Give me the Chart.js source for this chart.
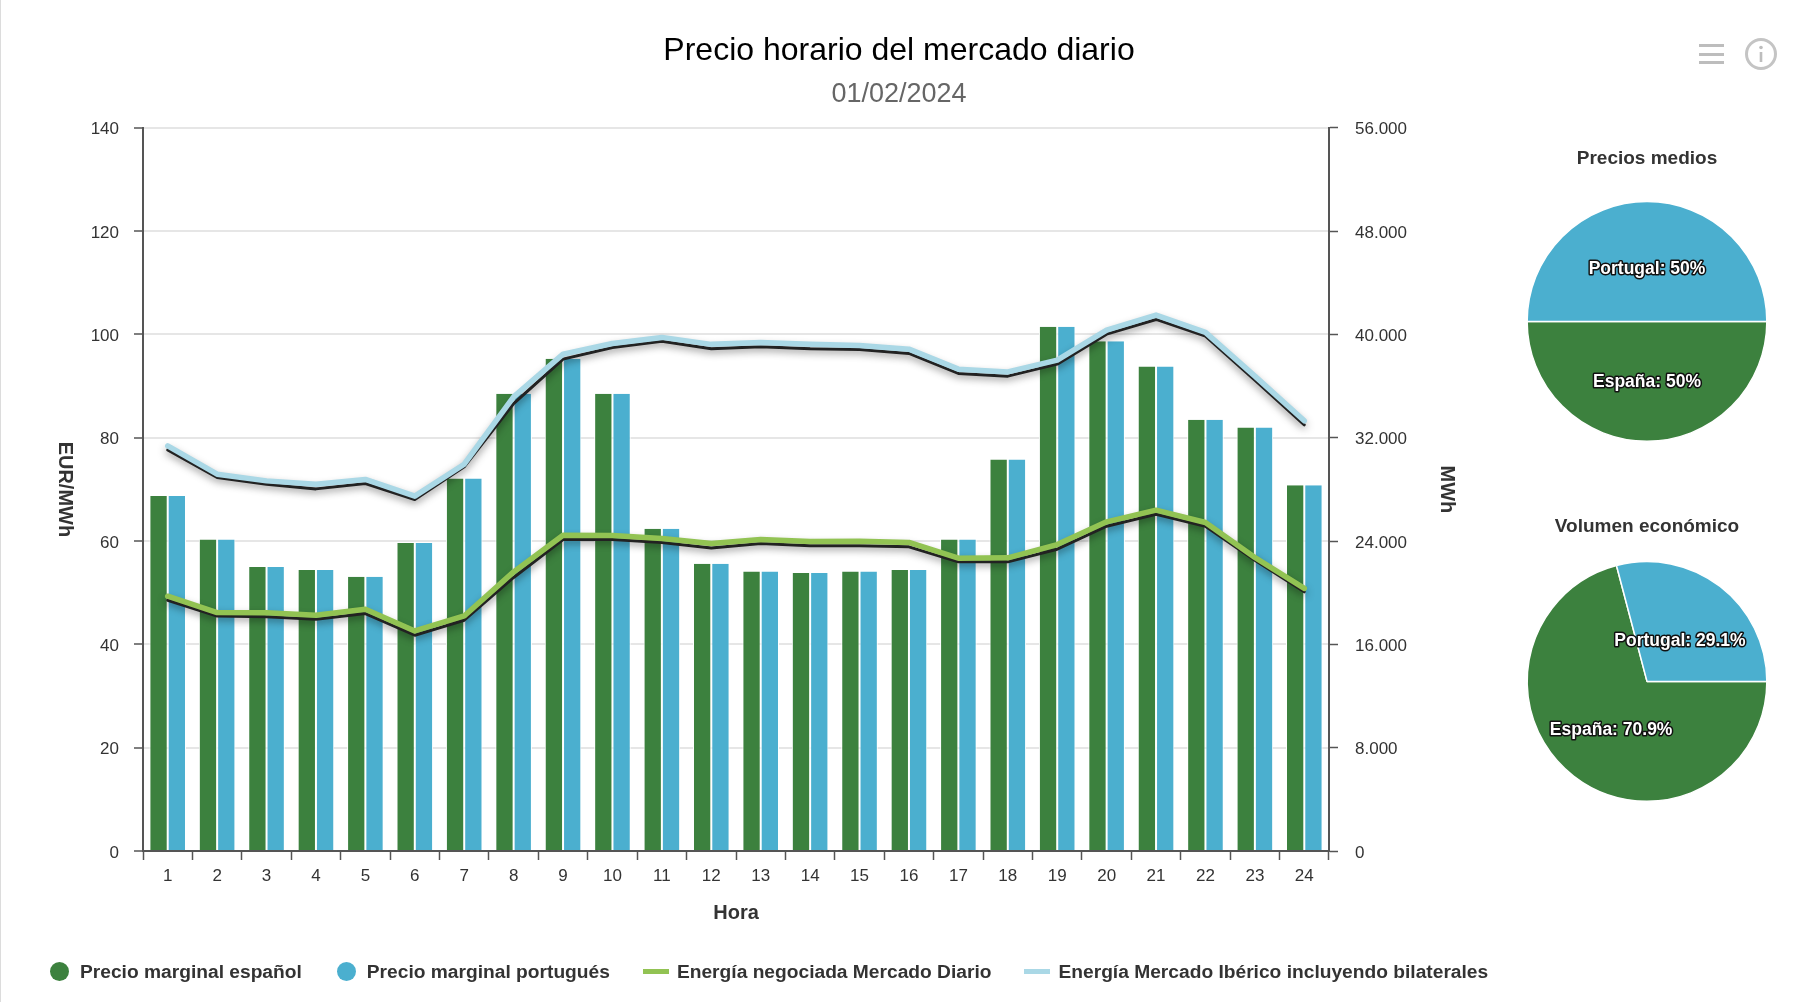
<!DOCTYPE html>
<html lang="es">
<head>
<meta charset="utf-8">
<title>Precio horario del mercado diario</title>
<script src="https://cdn.jsdelivr.net/npm/chart.js@4"></script>
<style>
    html, body { margin: 0; padding: 0; background: #fff; }
    body { width: 1814px; height: 1002px; position: relative; overflow: hidden; font-family: "Liberation Sans", Arial, sans-serif; }
    #edge { position: absolute; left: 0; top: 0; width: 1px; height: 1002px; background: #dcdcdc; }
    #main { position: absolute; left: 0; top: 0; }
    .pie { position: absolute; left: 1497px; }
    #pieMedios { top: 140px; }
    #pieVolumen { top: 508px; }
    #icons { position: absolute; left: 1695px; top: 36px; }
    #legend { position: absolute; left: 50px; top: 960px; display: flex; align-items: center; height: 23px; color: #333; font-size: 19.2px; font-weight: bold; white-space: nowrap; }
    .item { display: flex; align-items: center; margin-right: 33px; }
    .item:first-child { margin-right: 35px; }
    .dot { width: 19px; height: 19px; border-radius: 50%; margin-right: 11px; }
    .dash { width: 26px; height: 5px; margin-right: 8px; }
</style>
</head>
<body>
<div id="edge"></div>
<canvas id="main" width="1798" height="1002"></canvas>
<canvas id="pieMedios" class="pie" width="300" height="302"></canvas>
<canvas id="pieVolumen" class="pie" width="300" height="294"></canvas>
<svg id="icons" width="84" height="38" viewBox="0 0 84 38">
    <g fill="#bdbdbd">
        <rect x="4" y="8" width="25" height="3"></rect>
        <rect x="4" y="17" width="25" height="3"></rect>
        <rect x="4" y="25" width="25" height="3"></rect>
    </g>
    <circle cx="66" cy="18" r="14.5" fill="none" stroke="#c4c4c4" stroke-width="3"></circle>
    <rect x="64.7" y="16" width="2.6" height="10" fill="#bdbdbd"></rect>
    <circle cx="66" cy="11.5" r="1.8" fill="#bdbdbd"></circle>
</svg>
<div id="legend"></div>

<script>
// Valores
var horas = ['1','2','3','4','5','6','7','8','9','10','11','12','13','14','15','16','17','18','19','20','21','22','23','24'];
var precioEspana = [68.7,60.3,55.0,54.4,53.1,59.6,72.1,88.5,95.3,88.5,62.4,55.6,54.1,53.8,54.1,54.4,60.3,75.8,101.5,98.7,93.8,83.5,82.0,70.8];
var precioPortugal = [68.7,60.3,55.0,54.4,53.1,59.6,72.1,88.5,95.3,88.5,62.4,55.6,54.1,53.8,54.1,54.4,60.3,75.8,101.5,98.7,93.8,83.5,82.0,70.8];
var energiaDiario = [19730,18460,18440,18260,18720,17040,18200,21610,24450,24430,24200,23810,24120,23960,23990,23890,22670,22700,23730,25490,26390,25440,22730,20330];
var energiaDiarioBase = [19420,18200,18130,17950,18390,16710,17870,21180,24120,24120,23890,23470,23810,23630,23630,23550,22390,22390,23370,25150,26080,25150,22520,20070];
var energiaIberico = [31370,29180,28660,28400,28770,27475,29950,35170,38470,39300,39770,39230,39380,39230,39150,38860,37310,37100,38010,40330,41500,40160,36770,33310];
var energiaIbericoBase = [31060,28920,28400,28040,28460,27220,29750,34650,38090,38990,39480,38890,39040,38890,38840,38530,36980,36770,37700,40020,41160,39870,36460,33000];
var ticksEur = ['0','20','40','60','80','100','120','140'];
var ticksMwh = ['0','8.000','16.000','24.000','32.000','40.000','48.000','56.000'];
var paises = ['España','Portugal'];
var preciosMedios = [50, 50];
var volumenEconomico = [70.9, 29.1];

var VERDE = '#3c813e', AZUL = '#4bafcf', LIMA = '#92c353', CELESTE = '#aad8e6';
var TEXTO = '#333333', EJE = '#555555', FUENTE = '"Liberation Sans", Arial, sans-serif';

// sombra borrosa de las lineas oscuras
var sombraLinea = {
    id: 'sombraLinea',
    beforeDatasetDraw: function(chart, args){
        if (!chart.data.datasets[args.index].sombra) return;
        var ctx = chart.ctx;
        ctx.save();
        ctx.shadowColor = 'rgba(0,0,0,0.8)';
        ctx.shadowBlur = 8;
        ctx.shadowOffsetY = 1;
    },
    afterDatasetDraw: function(chart, args){
        if (chart.data.datasets[args.index].sombra) chart.ctx.restore();
    }
};

// titulos de los ejes Y, los dos giran en sentido horario
var titulosEjes = {
    id: 'titulosEjes',
    afterDraw: function(chart){
        var ctx = chart.ctx;
        var medio = (chart.chartArea.top + chart.chartArea.bottom) / 2;
        [['EUR/MWh', chart.scales.y.left + 65], ['MWh', chart.scales.y1.right - 351]].forEach(function(t){
            ctx.save();
            ctx.translate(t[1], medio);
            ctx.rotate(Math.PI / 2);
            ctx.font = 'bold 20px ' + FUENTE;
            ctx.fillStyle = TEXTO;
            ctx.textAlign = 'center';
            ctx.textBaseline = 'middle';
            ctx.fillText(t[0], 0, 0);
            ctx.restore();
        });
    }
};

// etiquetas sobre los sectores, blancas con contorno oscuro
var etiquetasPie = {
    id: 'etiquetasPie',
    afterDatasetsDraw: function(chart){
        var ctx = chart.ctx;
        var valores = chart.data.datasets[0].data;
        chart.getDatasetMeta(0).data.forEach(function(arc, i){
            var mid = (arc.startAngle + arc.endAngle) / 2;
            var dist = arc.outerRadius * (i === 0 ? 0.49 : 0.45);
            var x = arc.x + Math.cos(mid) * dist;
            var y = arc.y + Math.sin(mid) * dist + 2;
            var txt = chart.data.labels[i] + ': ' + valores[i] + '%';
            ctx.save();
            ctx.font = 'bold 17.5px ' + FUENTE;
            ctx.textAlign = 'center';
            ctx.textBaseline = 'middle';
            ctx.lineJoin = 'round';
            ctx.lineWidth = 3;
            ctx.strokeStyle = '#111';
            ctx.strokeText(txt, x, y);
            ctx.fillStyle = '#fff';
            ctx.fillText(txt, x, y);
            ctx.restore();
        });
    }
};

function linea(label, data, color, ancho, orden, sombra){
    return {
        type: 'line', label: label, data: data, yAxisID: 'y1',
        borderColor: color, borderWidth: ancho, pointRadius: 0, tension: 0,
        fill: false, order: orden, sombra: sombra, borderJoinStyle: 'round', borderCapStyle: 'round'
    };
}

function barra(label, data, color){
    return {
        type: 'bar', label: label, data: data, yAxisID: 'y',
        backgroundColor: color, borderColor: '#fff',
        borderWidth: { left: 1, right: 1, top: 0, bottom: 0 }, order: 10,
        categoryPercentage: 0.74, barPercentage: 1
    };
}

var datasets = [
    barra('Precio marginal español', precioEspana, VERDE),
    barra('Precio marginal portugués', precioPortugal, AZUL),
    linea('Energía negociada Mercado Diario', energiaDiario, LIMA, 5.5, 1, false),
    linea('Energía Mercado Ibérico incluyendo bilaterales', energiaIberico, CELESTE, 5.5, 2, false),
    linea('', energiaDiarioBase, '#222', 3, 3, true),
    linea('', energiaIbericoBase, '#222', 3, 4, true)
];

new Chart(document.getElementById('main'), {
    type: 'bar',
    data: { labels: horas, datasets: datasets },
    plugins: [sombraLinea, titulosEjes],
    options: {
        responsive: false,
        animation: false,
        layout: { padding: 0 },
        plugins: {
            legend: { display: false },
            tooltip: { enabled: false },
            title: {
                display: true,
                text: 'Precio horario del mercado diario',
                color: '#000',
                font: { family: FUENTE, size: 32, weight: 'normal' },
                padding: { top: 32, bottom: 8 }
            },
            subtitle: {
                display: true,
                text: '01/02/2024',
                color: '#666',
                font: { family: FUENTE, size: 27, weight: 'normal' },
                padding: { top: 0, bottom: 17 }
            }
        },
        scales: {
            x: {
                grid: { offset: true, drawOnChartArea: false, tickColor: EJE, tickLength: 9, tickWidth: 1.5 },
                border: { color: EJE, width: 2 },
                ticks: { color: TEXTO, font: { family: FUENTE, size: 17 }, padding: 6, maxRotation: 0, autoSkip: false },
                title: { display: true, text: 'Hora', color: TEXTO, font: { family: FUENTE, size: 20, weight: 'bold' }, padding: { bottom: 77 } },
                afterFit: function(s){ s.height = 151; }
            },
            y: {
                position: 'left', min: 0, max: 140,
                grid: { color: '#e6e6e6', lineWidth: 2, tickColor: EJE, tickLength: 9, tickWidth: 1.5 },
                border: { color: EJE, width: 2 },
                ticks: {
                    stepSize: 20, color: TEXTO, font: { family: FUENTE, size: 17 }, padding: 15, labelOffset: 2,
                    callback: function(v, i){ return ticksEur[i]; }
                },
                afterFit: function(s){ s.width = 143; }
            },
            y1: {
                position: 'right', min: 0, max: 56000,
                grid: { drawOnChartArea: false, tickColor: EJE, tickLength: 9, tickWidth: 1.5 },
                border: { color: EJE, width: 2 },
                ticks: {
                    stepSize: 8000, color: TEXTO, font: { family: FUENTE, size: 17 }, padding: 17, labelOffset: 2,
                    callback: function(v, i){ return ticksMwh[i]; }
                },
                afterFit: function(s){ s.width = 469; }
            }
        }
    }
});

function crearPie(id, titulo, valores, padTitulo){
    new Chart(document.getElementById(id), {
        type: 'pie',
        data: { labels: paises, datasets: [{ data: valores, backgroundColor: [VERDE, AZUL], borderColor: '#fff', borderWidth: 1.5 }] },
        plugins: [etiquetasPie],
        options: {
            responsive: false,
            animation: false,
            rotation: 90,
            plugins: {
                legend: { display: false },
                tooltip: { enabled: false },
                title: {
                    display: true, text: titulo, color: TEXTO,
                    font: { family: FUENTE, size: 19, weight: 'bold' },
                    padding: padTitulo
                }
            }
        }
    });
}
crearPie('pieMedios', 'Precios medios', preciosMedios, { top: 7, bottom: 31 });
crearPie('pieVolumen', 'Volumen económico', volumenEconomico, { top: 7, bottom: 23 });

// leyenda HTML con las cuatro series visibles
var leyenda = document.getElementById('legend');
datasets.slice(0, 4).forEach(function(d){
    var item = document.createElement('span');
    item.className = 'item';
    var marca = document.createElement('span');
    marca.className = d.type === 'bar' ? 'dot' : 'dash';
    marca.style.background = d.type === 'bar' ? d.backgroundColor : d.borderColor;
    item.appendChild(marca);
    item.appendChild(document.createTextNode(d.label));
    leyenda.appendChild(item);
});
</script>
</body>
</html>
